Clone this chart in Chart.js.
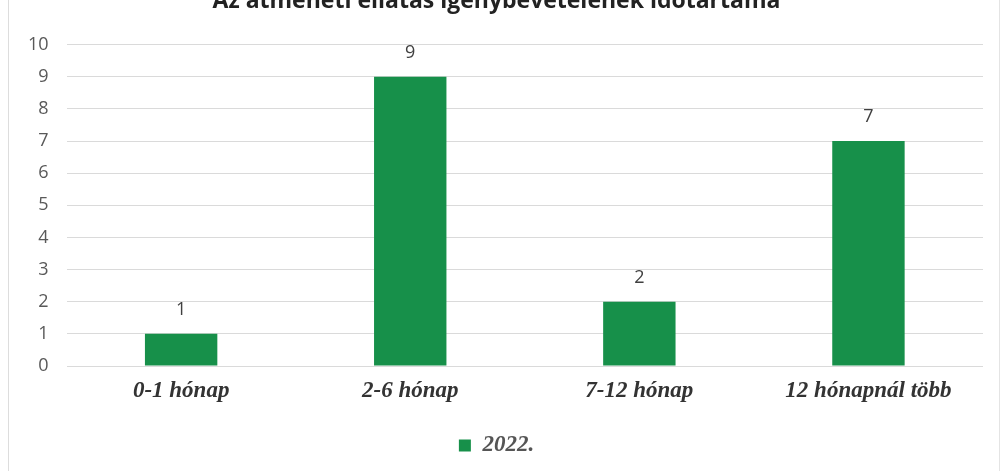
<!DOCTYPE html>
<html><head><meta charset="utf-8">
<script src="https://cdn.jsdelivr.net/npm/chart.js@4.4.0/dist/chart.umd.min.js"></script>
<style>
html,body{margin:0;padding:0;background:#fff;overflow:hidden;}
#wrap{position:absolute;left:0;top:-20px;width:1003px;height:491px;}
#frame{position:absolute;left:8px;top:0;width:992px;height:471px;border-left:1px solid #ddd;border-right:1px solid #e4e4e4;box-sizing:border-box;pointer-events:none;}
</style></head>
<body>
<div id="wrap"><canvas id="c" width="1003" height="491"></canvas></div>
<div id="frame"></div>
<script>
const categories = ["0-1 hónap", "2-6 hónap", "7-12 hónap", "12 hónapnál több"];
const seriesName = "2022.";
const values = [1, 9, 2, 7];
const yTicks = [0,1,2,3,4,5,6,7,8,9,10];
const titleText = "Az átmeneti ellátás igénybevételének időtartama";

const valueLabels = {
  id: 'valueLabels',
  afterDatasetsDraw(chart) {
    const ctx = chart.ctx;
    const meta = chart.getDatasetMeta(0);
    ctx.save();
    ctx.font = '18px "Open Sans", sans-serif';
    ctx.fillStyle = '#404040';
    ctx.textAlign = 'center';
    ctx.textBaseline = 'middle';
    meta.data.forEach((bar, i) => {
      ctx.fillText(String(values[i]), bar.x, bar.y - 24);
    });
    ctx.restore();
  }
};

new Chart(document.getElementById('c'), {
  type: 'bar',
  data: {
    labels: categories,
    datasets: [{
      label: seriesName,
      data: values,
      backgroundColor: '#17904a',
      borderWidth: 0,
      categoryPercentage: 1,
      barPercentage: 0.316
    }]
  },
  options: {
    responsive: false,
    animation: false,
    layout: { padding: { left: 10, right: 20, top: 0, bottom: 4 } },
    plugins: {
      title: {
        display: true,
        text: titleText,
        font: { family: '"Open Sans", sans-serif', size: 23, weight: 'bold' },
        color: '#222',
        padding: { top: 8, bottom: 29 }
      },
      legend: {
        position: 'bottom',
        labels: {
          boxWidth: 12, boxHeight: 12,
          font: { family: '"Liberation Serif", serif', size: 23, weight: 'bold', style: 'italic' },
          color: '#555',
          padding: 20
        }
      },
      tooltip: { enabled: false }
    },
    scales: {
      x: {
        grid: { display: false },
        border: { display: false },
        afterFit(scale) { scale.height = 48; },
        ticks: {
          font: { family: '"Liberation Serif", serif', size: 23, weight: 'bold', style: 'italic' },
          color: '#333',
          padding: 3
        }
      },
      y: {
        min: 0, max: 10,
        afterBuildTicks(axis) { axis.ticks = yTicks.map(v => ({ value: v })); },
        grid: { color: '#dadada', drawTicks: false },
        border: { display: false },
        ticks: {
          font: { family: '"Open Sans", sans-serif', size: 18 },
          color: '#595959',
          padding: 18
        }
      }
    }
  },
  plugins: [valueLabels]
});
</script>
</body></html>
